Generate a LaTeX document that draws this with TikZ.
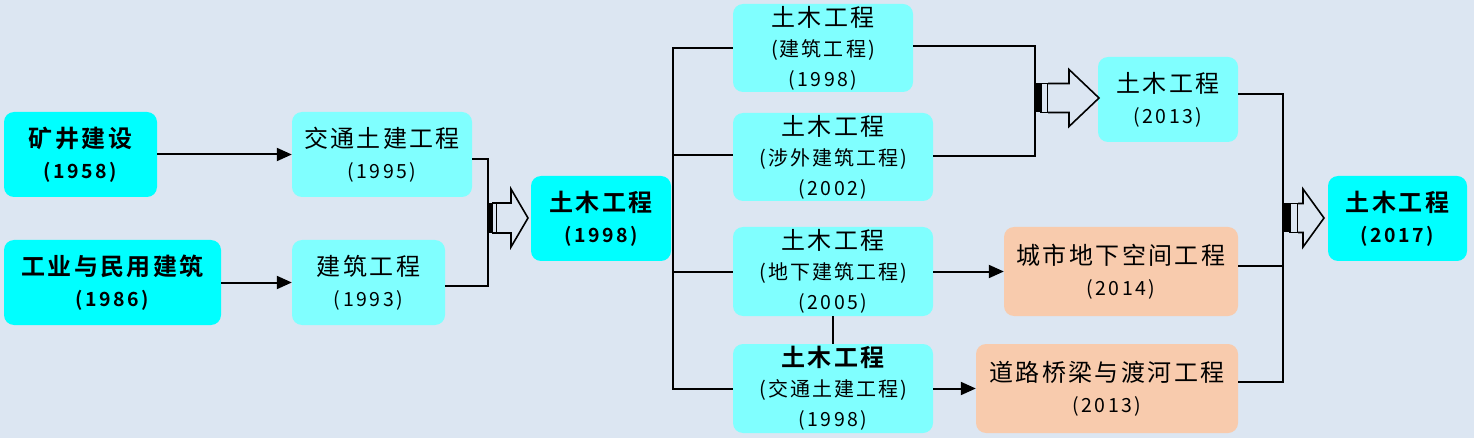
\documentclass[tikz,border=0pt]{standalone}
\usepackage{fontspec}
\setmainfont{Noto Sans CJK SC}[BoldFont={Noto Sans CJK SC Bold}]
\newfontfamily\fmain{Noto Sans CJK SC}[LetterSpace=10,BoldFont={Noto Sans CJK SC Bold}]
\newfontfamily\fyr{Noto Sans CJK SC}[LetterSpace=13,BoldFont={Noto Sans CJK SC Bold}]
\usetikzlibrary{arrows.meta}
\definecolor{bgc}{HTML}{DCE6F2}
\definecolor{cyA}{HTML}{00FFFF}
\definecolor{cyB}{HTML}{80FFFF}
\definecolor{pch}{HTML}{F8CBAD}
\newcommand\txA[1]{{\fmain\fontsize{24}{24}\selectfont #1}}
\newcommand\txAb[1]{{\fmain\bfseries\fontsize{24}{24}\selectfont #1}}
\newcommand\txS[1]{{\fmain\fontsize{20}{20}\selectfont #1}}
\newcommand\txY[1]{{\fyr\fontsize{19.5}{19.5}\selectfont #1}}
\newcommand\txYb[1]{{\fyr\bfseries\fontsize{19.5}{19.5}\selectfont #1}}
% block arrow: #1 x0, #2 yc, #3 bar1 end, #4 bar2 start, #5 body start, #6 head start, #7 tip, #8 half body, #9 half head
\newcommand\blockarr[9]{%
  \fill[black] (#1,#2-#8) rectangle (#3,#2+#8);
  \draw[blkline,fill=bgc] (#4,#2-#8) rectangle (#5,#2+#8);
  \draw[blkline,fill=bgc] (#5,#2-#8) -- (#6,#2-#8) -- (#6,#2-#9) -- (#7,#2) -- (#6,#2+#9) -- (#6,#2+#8) -- (#5,#2+#8);
}
\begin{document}
\begin{tikzpicture}[x=1pt,y=-1pt,
  box/.style={rounded corners=10pt, inner sep=0pt, align=center, draw=none},
  two/.style={box, font=\fontsize{24}{31}\selectfont},
  three/.style={box, font=\fontsize{24}{30}\selectfont},
  conn/.style={line width=2pt, black},
  arr/.style={conn, -{Triangle[length=15pt,width=13pt]}},
  blkline/.style={line width=1.6pt, black, line join=miter}
]
\useasboundingbox[fill=bgc] (0,0) rectangle (1474,438);

% left column
\node[two, fill=cyA, minimum width=153pt, minimum height=85pt] (n1) at (80.5,154.5) {\txAb{矿井建设}\\\txYb{(1958)}};
\node[two, fill=cyA, minimum width=217pt, minimum height=85pt] (n2) at (112.5,282.5) {\txAb{工业与民用建筑}\\\txYb{(1986)}};
\node[two, fill=cyB, minimum width=180pt, minimum height=85pt] (n3) at (382,154.5) {\txA{交通土建工程}\\\txY{(1995)}};
\node[two, fill=cyB, minimum width=153pt, minimum height=85pt] (n4) at (368.5,282.5) {\txA{建筑工程}\\\txY{(1993)}};
\node[two, fill=cyA, minimum width=140pt, minimum height=85pt] (n5) at (601,218.5) {\txAb{土木工程}\\\txYb{(1998)}};

% middle column
\node[three, fill=cyB, minimum width=180pt, minimum height=88pt] (m1) at (823,48) {\txA{土木工程}\\\txS{(建筑工程)}\\\txY{(1998)}};
\node[three, fill=cyB, minimum width=200pt, minimum height=88pt] (m2) at (833,157) {\txA{土木工程}\\\txS{(涉外建筑工程)}\\\txY{(2002)}};
\node[three, fill=cyB, minimum width=200pt, minimum height=89pt] (m3) at (833,271.5) {\txA{土木工程}\\\txS{(地下建筑工程)}\\\txY{(2005)}};
\node[three, fill=cyB, minimum width=200pt, minimum height=89pt] (m4) at (833,388.5) {\txAb{土木工程}\\\txS{(交通土建工程)}\\\txY{(1998)}};

% right column
\node[two, fill=pch, minimum width=234pt, minimum height=89pt] (p1) at (1121,271.5) {\txA{城市地下空间工程}\\\txY{(2014)}};
\node[two, fill=pch, minimum width=262pt, minimum height=89pt] (p2) at (1107,388.5) {\txA{道路桥梁与渡河工程}\\\txY{(2013)}};
\node[two, fill=cyB, minimum width=140pt, minimum height=85pt] (q1) at (1168,99.5) {\txA{土木工程}\\\txY{(2013)}};
\node[two, fill=cyA, minimum width=139pt, minimum height=85pt] (q2) at (1397.5,218.5) {\txAb{土木工程}\\\txYb{(2017)}};

% junction coordinates
\coordinate (j1) at (488,218);
\coordinate (bx) at (673,218);
\coordinate (j3) at (1035,98);
\coordinate (j4) at (1283,218);

% connectors
\draw[arr] (n1) -- (n3);
\draw[arr] (n2) -- (n4);
\draw[conn] ([yshift=-4.5pt]n3.east) -| (j1) |- ([yshift=-3.5pt]n4.east);
\draw[conn] (m1.west) -| (bx |- m4.west) -- (m4.west);
\draw[conn] ([yshift=2pt]m2.west) -- ++(-60,0);
\draw[conn] (m3.west) -- (bx |- m3.west);
\draw[conn] (m3.south) -- (m4.north);
\draw[conn] ([yshift=2pt]m1.east) -| (j3) |- ([yshift=1pt]m2.east);
\draw[arr] (m3) -- (p1);
\draw[arr] (m4) -- (p2);
\draw[conn] ([yshift=5.5pt]q1.east) -| (j4) |- ([yshift=6.5pt]p2.east);
\draw[conn] ([yshift=5.5pt]p1.east) -- ++(45,0);

% block arrows
\blockarr{488}{218}{491.5}{492.5}{497}{511}{528}{15}{29}
\blockarr{1035}{98}{1040}{1041}{1048}{1069}{1099}{14.5}{28.5}
\blockarr{1283}{218}{1289}{1290}{1298}{1303}{1324}{14.5}{29}
\end{tikzpicture}
\end{document}
